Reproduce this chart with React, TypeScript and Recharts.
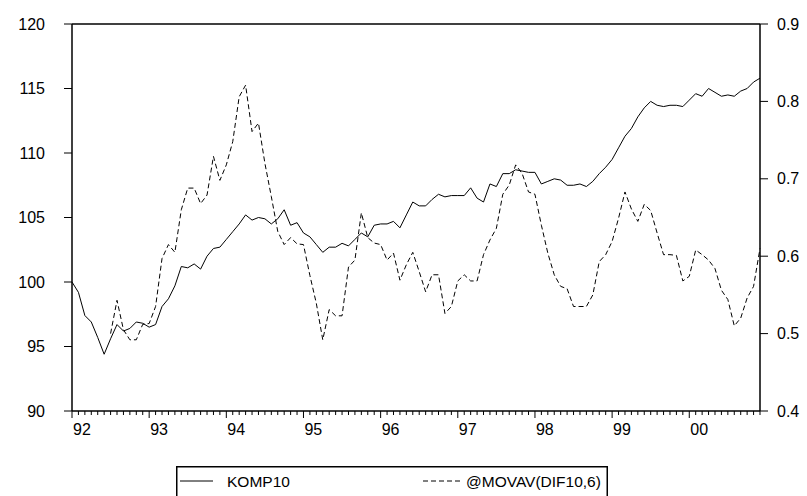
import { LineChart, Line, XAxis, YAxis, ReferenceLine, Legend } from 'recharts';

// monthly, 1992M01 .. 2000M12
const YEAR_LABELS = ['92', '93', '94', '95', '96', '97', '98', '99', '00'];
const SERIES_NAMES = ['KOMP10', '@MOVAV(DIF10,6)'];

const KOMP10 = [
  100.0, 99.2, 97.4, 96.9, 95.7, 94.4, 95.6, 96.7, 96.2, 96.4, 96.9, 96.8,
  96.5, 96.7, 98.1, 98.7, 99.7, 101.2, 101.1, 101.4, 101.0, 102.0, 102.6, 102.7,
  103.3, 103.9, 104.5, 105.2, 104.8, 105.0, 104.9, 104.5, 104.9, 105.6, 104.4, 104.6,
  103.8, 103.5, 102.9, 102.3, 102.7, 102.7, 103.0, 102.8, 103.3, 103.8, 103.5, 104.4,
  104.5, 104.5, 104.7, 104.2, 105.2, 106.2, 105.9, 105.9, 106.4, 106.8, 106.6, 106.7,
  106.7, 106.7, 107.3, 106.5, 106.2, 107.6, 107.4, 108.4, 108.4, 108.7, 108.6, 108.5,
  108.5, 107.6, 107.8, 108.0, 107.9, 107.5, 107.5, 107.6, 107.4, 107.8, 108.4, 108.9,
  109.5, 110.4, 111.3, 111.9, 112.8, 113.5, 114.0, 113.7, 113.6, 113.7, 113.7, 113.6,
  114.1, 114.6, 114.4, 115.0, 114.7, 114.4, 114.5, 114.4, 114.8, 115.0, 115.5, 115.8,
];

const MOVAV = [
  null, null, null, null, null, null, 0.500, 0.543, 0.505, 0.492, 0.492, 0.512,
  0.513, 0.535, 0.597, 0.615, 0.605, 0.660, 0.688, 0.688, 0.668, 0.679, 0.729, 0.698,
  0.718, 0.748, 0.806, 0.821, 0.761, 0.772, 0.720, 0.677, 0.632, 0.615, 0.624, 0.616,
  0.615, 0.575, 0.539, 0.492, 0.531, 0.523, 0.523, 0.586, 0.595, 0.656, 0.624, 0.617,
  0.615, 0.595, 0.604, 0.569, 0.589, 0.605, 0.580, 0.554, 0.576, 0.576, 0.526, 0.535,
  0.568, 0.576, 0.568, 0.568, 0.602, 0.621, 0.636, 0.680, 0.692, 0.718, 0.707, 0.683,
  0.680, 0.640, 0.604, 0.576, 0.561, 0.558, 0.535, 0.535, 0.535, 0.550, 0.593, 0.602,
  0.619, 0.649, 0.683, 0.661, 0.645, 0.667, 0.659, 0.630, 0.602, 0.602, 0.601, 0.568,
  0.574, 0.608, 0.602, 0.595, 0.584, 0.556, 0.544, 0.510, 0.520, 0.546, 0.561, 0.610,
];

const LEFT_TICKS = [90, 95, 100, 105, 110, 115, 120];
const RIGHT_TICKS = [0.4, 0.5, 0.6, 0.7, 0.8, 0.9];

const data = KOMP10.map((v, i) => ({ t: i, komp10: v, movav: MOVAV[i] }));
const monthTicks = data.map((d) => d.t);

const FONT = 16;

function MonthTick(props: any) {
  const { x, y, payload } = props;
  const i = payload.value;
  const major = i % 12 === 0;
  return (
    <g>
      <line x1={x} x2={x} y1={y} y2={y + (major ? 7 : 4)} stroke="#000" strokeWidth={1} />
      {major && (
        <text x={x + 1} y={y + 24} fontSize={FONT} fill="#000" textAnchor="start">
          {YEAR_LABELS[i / 12]}
        </text>
      )}
    </g>
  );
}

function LegendBox(props: any) {
  const items = [...(props.payload || [])].sort(
    (a: any, b: any) => SERIES_NAMES.indexOf(a.value) - SERIES_NAMES.indexOf(b.value)
  );
  return (
    <svg width={432} height={32} style={{ display: 'block' }}>
      <rect x={0.75} y={0.75} width={430.5} height={32} fill="#fff" stroke="#000" strokeWidth={1.5} />
      {items.map((it: any, idx: number) => {
        const lx = idx === 0 ? 4 : 247;
        const tx = idx === 0 ? 51 : 290;
        return (
          <g key={it.value}>
            <line
              x1={lx}
              x2={lx + (idx === 0 ? 33 : 38)}
              y1={15}
              y2={15}
              stroke="#000"
              strokeWidth={1}
              strokeDasharray={idx === 0 ? undefined : '5 3'}
            />
            <text x={tx} y={21} fontSize={15.5} fill="#000">
              {it.value}
            </text>
          </g>
        );
      })}
    </svg>
  );
}

export default function App() {
  return (
    <div
      style={{
        position: 'absolute',
        left: 0,
        top: 0,
        width: 807,
        height: 496,
        background: '#fff',
        fontFamily: '"Liberation Sans", Arial, sans-serif',
      }}
    >
      <LineChart width={807} height={496} data={data} margin={{ top: 24, right: 0, bottom: 0, left: 0 }}>
        <XAxis
          dataKey="t"
          type="number"
          domain={[0, 107]}
          ticks={monthTicks}
          interval={0}
          height={85}
          tickSize={0}
          tickMargin={0}
          tickLine={false}
          tick={<MonthTick />}
          axisLine={{ stroke: '#000', strokeWidth: 1.5 }}
        />
        <YAxis
          yAxisId="left"
          orientation="left"
          width={72}
          domain={[90, 120]}
          ticks={LEFT_TICKS}
          interval={0}
          tickSize={8}
          tickMargin={19}
          tick={{ fill: '#000', fontSize: FONT }}
          tickLine={{ stroke: '#000', strokeWidth: 1 }}
          axisLine={{ stroke: '#000', strokeWidth: 1.5 }}
        />
        <YAxis
          yAxisId="right"
          orientation="right"
          width={47}
          domain={[0.4, 0.9]}
          ticks={RIGHT_TICKS}
          interval={0}
          tickSize={8}
          tickMargin={9}
          tickFormatter={(v: number) => v.toFixed(1)}
          tick={{ fill: '#000', fontSize: FONT }}
          tickLine={{ stroke: '#000', strokeWidth: 1 }}
          axisLine={{ stroke: '#000', strokeWidth: 1.5 }}
        />
        <ReferenceLine yAxisId="left" y={120} stroke="#000" strokeWidth={1.5} />
        <Line
          yAxisId="left"
          dataKey="komp10"
          name={SERIES_NAMES[0]}
          stroke="#000"
          strokeWidth={1}
          dot={false}
          type="linear"
          isAnimationActive={false}
        />
        <Line
          yAxisId="right"
          dataKey="movav"
          name={SERIES_NAMES[1]}
          stroke="#000"
          strokeWidth={1}
          strokeDasharray="5 3"
          dot={false}
          type="linear"
          connectNulls={false}
          isAnimationActive={false}
        />
        <Legend
          layout="horizontal"
          verticalAlign="middle"
          content={<LegendBox />}
          wrapperStyle={{ position: 'absolute', left: 176, top: 466, width: 432, height: 32 }}
        />
      </LineChart>
    </div>
  );
}
